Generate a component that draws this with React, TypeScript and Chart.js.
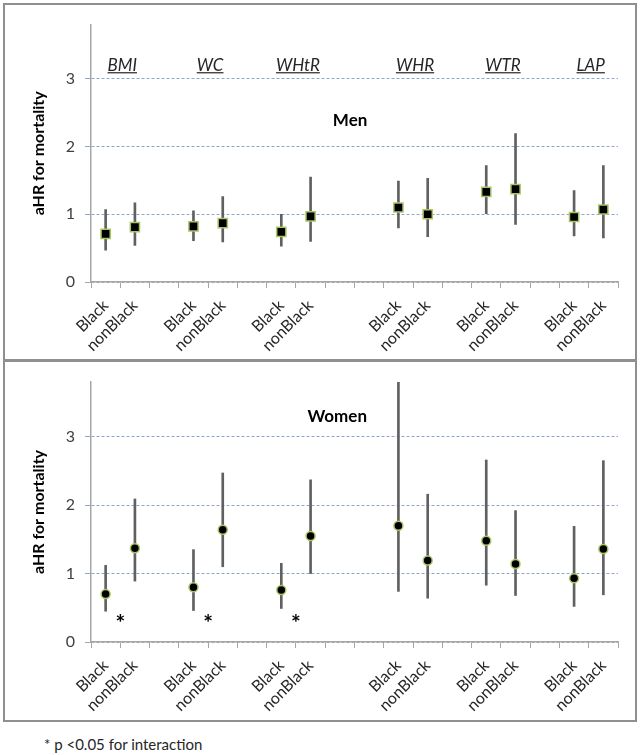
import React, { useEffect, useRef } from 'react';
import { Chart, registerables } from 'chart.js';
Chart.register(...registerables);

// ---- data ----
const categories = ['Black', 'nonBlack', '', 'Black', 'nonBlack', '', 'Black', 'nonBlack', '', '', 'Black', 'nonBlack', '', 'Black', 'nonBlack', '', 'Black', 'nonBlack'];
const groupNames = ['BMI', 'WC', 'WHtR', 'WHR', 'WTR', 'LAP'];
const groupStart = [0, 3, 6, 10, 13, 16];
const yTicks = [0, 1, 2, 3];

const menHR = [0.71, 0.81, null, 0.82, 0.87, null, 0.74, 0.97, null, null, 1.10, 1.00, null, 1.33, 1.37, null, 0.96, 1.07];
const menLow = [0.47, 0.54, null, 0.61, 0.59, null, 0.53, 0.60, null, null, 0.80, 0.67, null, 1.01, 0.85, null, 0.68, 0.65];
const menHigh = [1.07, 1.17, null, 1.05, 1.26, null, 1.00, 1.55, null, null, 1.49, 1.53, null, 1.72, 2.19, null, 1.35, 1.72];

const womenHR = [0.70, 1.37, null, 0.80, 1.64, null, 0.76, 1.55, null, null, 1.70, 1.19, null, 1.48, 1.14, null, 0.93, 1.36];
const womenLow = [0.45, 0.89, null, 0.46, 1.10, null, 0.49, 1.00, null, null, 0.74, 0.64, null, 0.83, 0.68, null, 0.52, 0.69];
const womenHigh = [1.12, 2.09, null, 1.35, 2.47, null, 1.15, 2.37, null, null, 3.80, 2.16, null, 2.66, 1.92, null, 1.69, 2.65];

const womenSignificant = ['BMI', 'WC', 'WHtR'];

const FONT = 'Lato, "Open Sans", sans-serif';

const annotPlugin = {
  id: 'annot',
  afterDatasetsDraw(chart: any, _args: any, opts: any) {
    const { ctx } = chart;
    const xs = chart.scales.x;
    const ys = chart.scales.y;
    ctx.save();
    if (opts.showGroups) {
      ctx.font = `italic 17px ${FONT}`;
      ctx.fillStyle = '#262626';
      ctx.textAlign = 'center';
      ctx.textBaseline = 'alphabetic';
      groupNames.forEach((g, i) => {
        const px = (xs.getPixelForValue(groupStart[i]) + xs.getPixelForValue(groupStart[i] + 1)) / 2 + 2;
        const py = ys.getPixelForValue(3.12);
        ctx.fillText(g, px, py);
        const w = ctx.measureText(g).width;
        ctx.fillRect(px - w / 2, py + 1.5, w, 1.2);
      });
    }
    if (opts.title) {
      ctx.font = `bold 17px ${FONT}`;
      ctx.fillStyle = '#000';
      ctx.textAlign = 'center';
      ctx.textBaseline = 'alphabetic';
      ctx.fillText(opts.title, xs.getPixelForValue(opts.titleX), ys.getPixelForValue(opts.titleY));
    }
    if (opts.stars) {
      ctx.font = `bold 23px ${FONT}`;
      ctx.fillStyle = '#000';
      ctx.textAlign = 'center';
      ctx.textBaseline = 'alphabetic';
      opts.stars.forEach((g: string) => {
        const i = groupNames.indexOf(g);
        const px = xs.getPixelForValue(groupStart[i] + 0.5);
        const py = ys.getPixelForValue(0.345);
        ctx.fillText('*', px, py + 13);
      });
    }
    ctx.restore();
  },
};

type PanelProps = {
  hr: (number | null)[];
  low: (number | null)[];
  high: (number | null)[];
  pointStyle: string;
  radius: number;
  width: number;
  height: number;
  padTop: number;
  xAxisHeight: number;
  annot: any;
};

function Panel(p: PanelProps) {
  const ref = useRef<HTMLCanvasElement>(null);
  useEffect(() => {
    const bars = p.low.map((l, i) => (l == null || p.high[i] == null ? null : [l, p.high[i]]));
    const chart = new Chart(ref.current!, {
      type: 'bar',
      data: {
        labels: categories,
        datasets: [
          {
            type: 'line',
            data: p.hr,
            showLine: false,
            pointStyle: p.pointStyle,
            pointRadius: p.radius,
            pointBackgroundColor: '#000000',
            pointBorderColor: '#A9C667',
            pointBorderWidth: 1.5,
            order: 0,
          } as any,
          {
            type: 'bar',
            data: bars as any,
            backgroundColor: '#606060',
            barThickness: 2,
            borderWidth: 0,
            borderSkipped: false,
            order: 1,
          } as any,
        ],
      },
      options: {
        animation: false,
        responsive: false,
        devicePixelRatio: 1,
        layout: { padding: { top: p.padTop, right: 17, left: 0, bottom: 0 } },
        plugins: {
          legend: { display: false },
          tooltip: { enabled: false },
          annot: p.annot,
        } as any,
        scales: {
          x: {
            type: 'category',
            offset: true,
            grid: {
              offset: true,
              drawOnChartArea: false,
              drawTicks: true,
              tickLength: 6,
              color: '#A6A6A6',
              lineWidth: 1,
            },
            border: { color: '#A6A6A6', width: 1.5 },
            ticks: {
              autoSkip: false,
              maxRotation: 45,
              minRotation: 45,
              padding: 8,
              font: { family: FONT, size: 16 },
              color: '#262626',
            },
            afterFit: (s: any) => {
              s.height = p.xAxisHeight;
            },
          },
          y: {
            min: 0,
            max: 3.8,
            afterBuildTicks: (s: any) => {
              s.ticks = yTicks.map((v) => ({ value: v }));
            },
            ticks: {
              stepSize: 1,
              includeBounds: false,
              padding: 10,
              font: { family: FONT, size: 16 },
              color: '#404040',
            },
            grid: {
              color: (c: any) => (c.tick && c.tick.value === 0 ? '#A6A6A6' : '#8EA4CC'),
              lineWidth: 1,
              tickLength: 6,
              borderDash: [3, 2],
            } as any,
            border: { color: '#A6A6A6', width: 1.5, dash: [3, 2] },
            title: {
              display: true,
              text: 'aHR for mortality',
              font: { family: FONT, size: 16, weight: 'bold' },
              color: '#000',
              padding: { top: 24, bottom: 0 },
            },
            afterFit: (s: any) => {
              s.width = 86;
            },
          },
        },
      },
      plugins: [annotPlugin],
    });
    return () => chart.destroy();
  }, []);
  return <canvas ref={ref} width={p.width} height={p.height} style={{ display: 'block' }} />;
}

export default function App() {
  return (
    <div style={{ position: 'absolute', left: 0, top: 0, width: 641, height: 755, background: '#fff', fontFamily: FONT }}>
      <div style={{ position: 'absolute', left: 3, top: 3, width: 634, height: 358, border: '2px solid #8F8F8F', boxSizing: 'border-box' }}>
        <Panel
          hr={menHR}
          low={menLow}
          high={menHigh}
          pointStyle="rect"
          radius={6.5}
          width={630}
          height={354}
          padTop={17}
          xAxisHeight={77}
          annot={{ showGroups: true, title: 'Men', titleX: 8.35, titleY: 2.3 }}
        />
      </div>
      <div style={{ position: 'absolute', left: 3, top: 360, width: 634, height: 362, border: '2px solid #8F8F8F', boxSizing: 'border-box' }}>
        <Panel
          hr={womenHR}
          low={womenLow}
          high={womenHigh}
          pointStyle="circle"
          radius={4.5}
          width={630}
          height={358}
          padTop={20}
          xAxisHeight={78}
          annot={{ showGroups: false, title: 'Women', titleX: 7.91, titleY: 3.22, stars: womenSignificant }}
        />
      </div>
      <div style={{ position: 'absolute', left: 44, top: 736, fontSize: 15, lineHeight: '17px', color: '#262626' }}>
        * p &lt;0.05 for interaction
      </div>
    </div>
  );
}
